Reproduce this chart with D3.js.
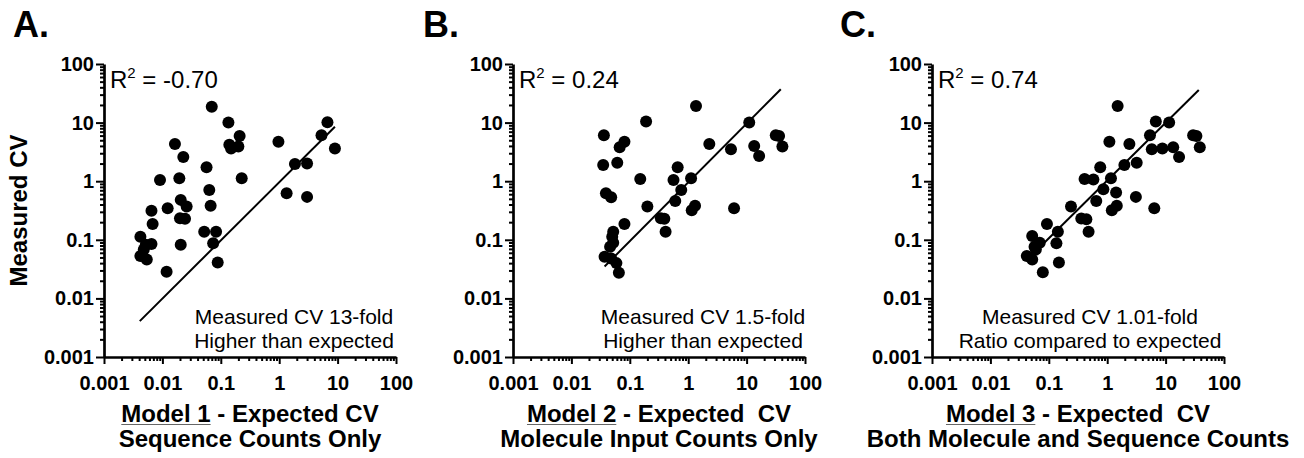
<!DOCTYPE html>
<html>
<head>
<meta charset="utf-8">
<script src="https://cdn.jsdelivr.net/npm/d3@7"></script>
<style>
  body { margin: 0; background: #fff; }
  svg { display: block; font-family: "Liberation Sans", Arial, sans-serif; }
  .tick text { font-weight: bold; font-size: 20px; fill: #000; }
  .tick line { stroke: #000; stroke-width: 2px; }
  .domain { stroke: #000; stroke-width: 2.7px; }
  .dot { fill: #000; }
  .fit { stroke: #000; stroke-width: 2px; fill: none; }
</style>
</head>
<body>
<svg id="chart" width="1304" height="458"></svg>
<script>
// axis ticks (shared by all three panels)
var tickVals = [0.001, 0.01, 0.1, 1, 10, 100];
var tickLabels = ["0.001", "0.01", "0.1", "1", "10", "100"];

// panel A - Model 1
var xA = [0.070, 0.135, 0.21, 0.14, 0.2, 0.15, 0.97, 6.7, 5.3, 9.0, 1.86, 3.0, 1.34, 3.0,
          0.0164, 0.0228, 0.057, 0.228, 0.0091, 0.0195, 0.0635, 0.067, 0.0206, 0.026, 0.0123,
          0.0065, 0.02, 0.0244, 0.0068, 0.052, 0.083, 0.074, 0.0042, 0.0065, 0.0052, 0.0042,
          0.0054, 0.0048, 0.0206, 0.0885, 0.0118];
var yA = [18.7, 10, 5.9, 4.2, 3.9, 3.6, 4.7, 10.1, 6.1, 3.6, 1.96, 2.0, 0.62, 0.54,
          4.3, 2.6, 1.73, 1.12, 1.05, 1.12, 0.71, 0.38, 0.48, 0.37, 0.344,
          0.314, 0.233, 0.228, 0.186, 0.137, 0.137, 0.087, 0.113, 0.085, 0.082, 0.053,
          0.046, 0.068, 0.082, 0.041, 0.0286];

// panel B - Model 2
var xB = [1.36, 0.19, 11.1, 0.036, 0.081, 0.067, 2.3, 5.4, 13.5, 16.4, 31.6, 36, 41,
          0.035, 0.061, 0.66, 0.151, 0.56, 1.12, 0.76, 0.039, 0.048, 0.6, 1.31, 1.15, 6.1,
          0.2, 0.34, 0.39, 0.41, 0.081, 0.052, 0.05, 0.052, 0.046, 0.037, 0.048, 0.059, 0.065];
var yB = [19.2, 10.4, 10, 6.1, 4.7, 3.8, 4.3, 3.5, 4.0, 2.7, 6.1, 5.9, 3.9,
          1.89, 2.07, 1.73, 1.09, 1.05, 1.12, 0.71, 0.62, 0.53, 0.46, 0.38, 0.32, 0.344,
          0.37, 0.233, 0.228, 0.137, 0.186, 0.137, 0.113, 0.089, 0.076, 0.0515, 0.048, 0.04, 0.0275];

// panel C - Model 3
var xC = [1.51, 6.8, 11.5, 5.4, 29.6, 33.7, 38.5, 1.09, 2.4, 5.8, 8.8, 13.5, 17,
          1.97, 3.2, 0.76, 0.41, 0.58, 1.16, 0.86, 1.42, 3.1, 0.65, 1.46, 1.2, 6.4,
          0.24, 0.36, 0.44, 0.48, 0.093, 0.143, 0.135, 0.052, 0.07, 0.057, 0.042, 0.052,
          0.06, 0.149, 0.079];
var yC = [19.2, 10.4, 10, 6.1, 6.1, 5.9, 3.8, 4.7, 4.3, 3.5, 3.6, 3.8, 2.6,
          1.89, 2.07, 1.73, 1.09, 1.07, 1.12, 0.73, 0.64, 0.54, 0.46, 0.38, 0.32, 0.344,
          0.37, 0.23, 0.224, 0.137, 0.186, 0.137, 0.087, 0.116, 0.089, 0.076, 0.053, 0.046,
          0.068, 0.041, 0.028];

// regression line end points [x1, y1, x2, y2]
var fitA = [0.0041, 0.0041, 9.0, 8.5];
var fitB = [0.037, 0.035, 38.5, 37];
var fitC = [0.075, 0.08, 37, 36];

var letters = ["A.", "B.", "C."];
var r2Labels = ["-0.70", "0.24", "0.74"];
var noteLine1 = ["Measured CV 13-fold", "Measured CV 1.5-fold", "Measured CV 1.01-fold"];
var noteLine2 = ["Higher than expected", "Higher than expected", "Ratio compared to expected"];
var modelNames = ["Model 1", "Model 2", "Model 3"];
var titleRest = [" - Expected CV", " - Expected\u00a0\u00a0CV", " - Expected\u00a0\u00a0CV"];
var titleLine2 = ["Sequence Counts Only", "Molecule Input Counts Only", "Both Molecule and Sequence Counts"];

var panels = [
  {x: xA, y: yA, fit: fitA, left: 104, noteX: 190},
  {x: xB, y: yB, fit: fitB, left: 513, noteX: 190},
  {x: xC, y: yC, fit: fitC, left: 932, noteX: 158}
];

var svg = d3.select("#chart");
var plotTop = 64, W = 292, H = 293;

panels.forEach(function(p, i) {
  var g = svg.append("g").attr("transform", "translate(" + p.left + "," + plotTop + ")");

  var x = d3.scaleLog().domain([0.001, 100]).range([0, W]);
  var y = d3.scaleLog().domain([0.001, 100]).range([H, 0]);

  var minorX = x.ticks().filter(function(d) { return tickVals.indexOf(d) < 0; });
  var minorY = y.ticks().filter(function(d) { return tickVals.indexOf(d) < 0; });

  // minor ticks
  g.append("g").attr("transform", "translate(0," + H + ")")
    .call(d3.axisBottom(x).tickValues(minorX).tickSize(4).tickFormat("").tickSizeOuter(0))
    .select(".domain").remove();
  g.append("g")
    .call(d3.axisLeft(y).tickValues(minorY).tickSize(4).tickFormat("").tickSizeOuter(0))
    .select(".domain").remove();

  // major ticks + labels
  g.append("g").attr("transform", "translate(0," + H + ")")
    .call(d3.axisBottom(x).tickValues(tickVals).tickSize(7).tickPadding(12).tickSizeOuter(0)
      .tickFormat(function(d, k) { return tickLabels[k]; }));
  g.append("g")
    .call(d3.axisLeft(y).tickValues(tickVals).tickSize(8).tickPadding(2).tickSizeOuter(0)
      .tickFormat(function(d, k) { return tickLabels[k]; }));

  // regression line
  g.append("line").attr("class", "fit")
    .attr("x1", x(p.fit[0])).attr("y1", y(p.fit[1]))
    .attr("x2", x(p.fit[2])).attr("y2", y(p.fit[3]));

  // points
  g.selectAll(".dot").data(p.x).enter().append("circle")
    .attr("class", "dot")
    .attr("cx", function(d) { return x(d); })
    .attr("cy", function(d, k) { return y(p.y[k]); })
    .attr("r", 6);

  // R^2
  var r2 = g.append("text").attr("x", 6).attr("y", 24).style("font-size", "24px");
  r2.append("tspan").text("R");
  r2.append("tspan").attr("dy", -10).style("font-size", "15px").text("2");
  r2.append("tspan").attr("dy", 10).text(" = " + r2Labels[i]);

  // note
  g.append("text").attr("x", p.noteX).attr("y", 260).attr("text-anchor", "middle")
    .style("font-size", "21px").text(noteLine1[i]);
  g.append("text").attr("x", p.noteX).attr("y", 284).attr("text-anchor", "middle")
    .style("font-size", "21px").text(noteLine2[i]);

  // x-axis title
  var t = g.append("text").attr("x", W / 2).attr("y", 358).attr("text-anchor", "middle")
    .style("font-size", "24px").style("font-weight", "bold");
  var ul = t.append("tspan").text(modelNames[i]);
  t.append("tspan").text(titleRest[i]);
  var bb = ul.node().getBBox();
  g.append("line").attr("x1", bb.x).attr("x2", bb.x + bb.width)
    .attr("y1", 360.5).attr("y2", 360.5)
    .attr("stroke", "#666").attr("stroke-width", 1);
  g.append("text").attr("x", W / 2).attr("y", 383).attr("text-anchor", "middle")
    .style("font-size", "24px").style("font-weight", "bold").text(titleLine2[i]);

  // panel letter
  svg.append("text").attr("x", [13, 423, 840][i]).attr("y", 37)
    .style("font-size", "36px").style("font-weight", "bold").text(letters[i]);
});

// y-axis title (panel A only)
svg.append("text")
  .attr("transform", "translate(27," + (plotTop + H / 2) + ") rotate(-90)")
  .attr("text-anchor", "middle")
  .style("font-size", "24px").style("font-weight", "bold")
  .text("Measured CV");
</script>
</body>
</html>
